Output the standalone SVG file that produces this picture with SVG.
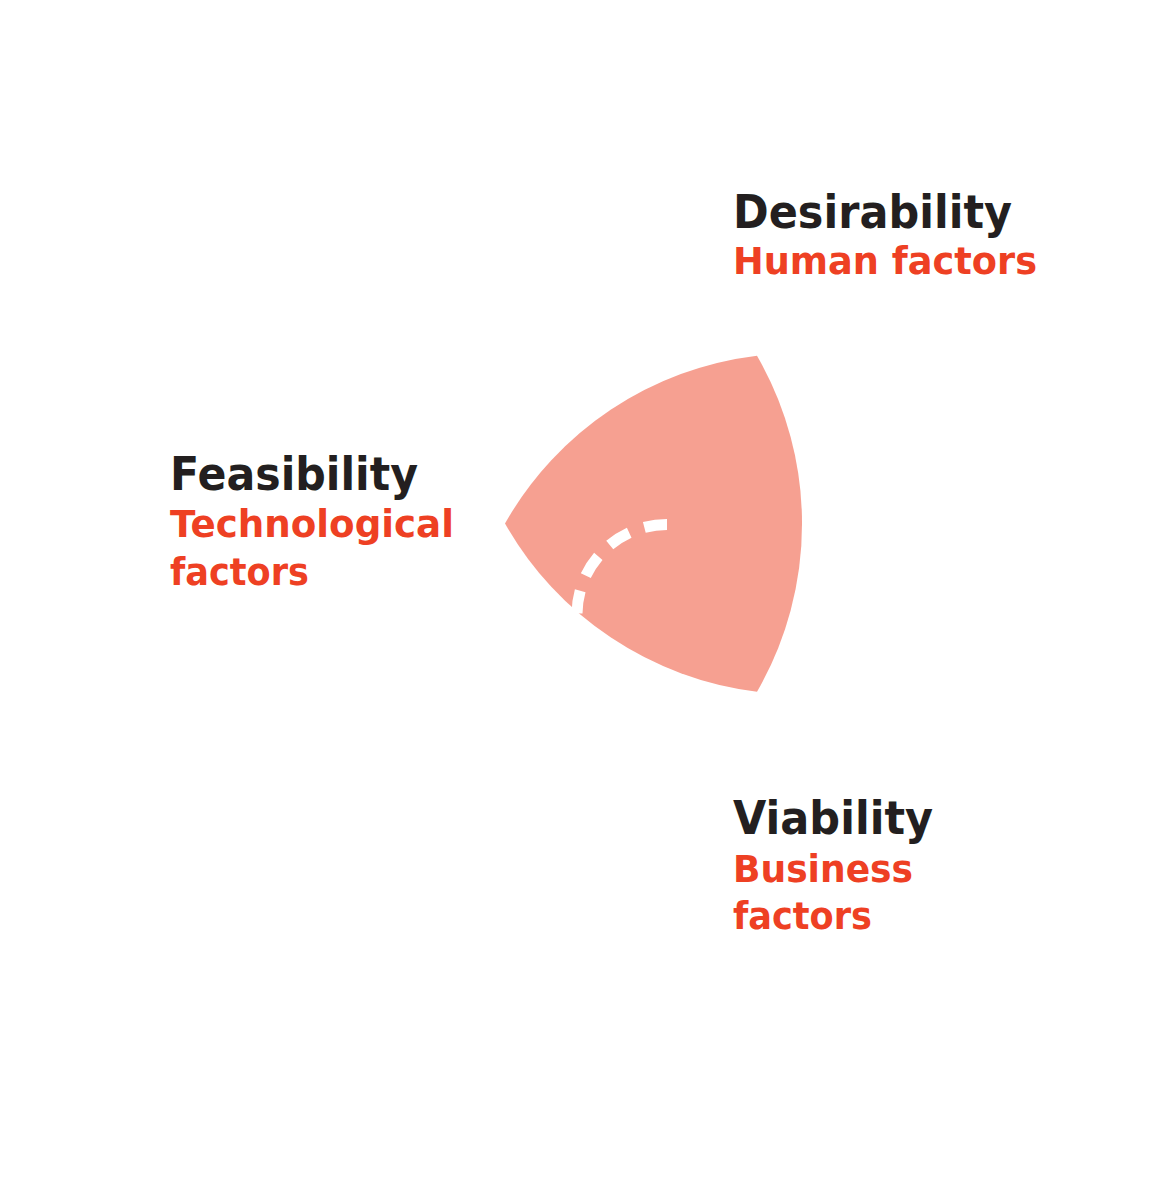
<svg xmlns="http://www.w3.org/2000/svg" width="1173" height="1200" viewBox="0 0 1173 1200">
  <style>
    .title { font-family: "DejaVu Sans", "Liberation Sans", sans-serif; font-weight: bold; font-size: 46px; fill: #231F20; }
    .sub { font-family: "DejaVu Sans", "Liberation Sans", sans-serif; font-weight: bold; font-size: 37px; fill: #EE4023; }
    .dash { fill: none; stroke: #FFFFFF; stroke-width: 11; stroke-dasharray: 23 16; stroke-linecap: butt; }
  </style>
  <rect width="1173" height="1200" fill="#FFFFFF"/>
  <g id="overlap">
    <path d="M757,355.7 A336,336 0 0 1 757,691.7 A336,336 0 0 1 505,523.5 A336,336 0 0 1 757,355.7 Z" fill="#F6A091"/>
    <path class="dash" d="M667,524.5 A90,90 0 0 0 577,614.5"/>
  </g>
  <g id="desirability">
    <text class="title" x="733" y="228" textLength="279" lengthAdjust="spacingAndGlyphs">Desirability</text>
    <text class="sub" x="733" y="274" textLength="304" lengthAdjust="spacingAndGlyphs">Human factors</text>
  </g>
  <g id="feasibility">
    <text class="title" x="170" y="490" textLength="248" lengthAdjust="spacingAndGlyphs">Feasibility</text>
    <text class="sub" x="170" y="537" textLength="284" lengthAdjust="spacingAndGlyphs">Technological</text>
    <text class="sub" x="170" y="585" textLength="139" lengthAdjust="spacingAndGlyphs">factors</text>
  </g>
  <g id="viability">
    <text class="title" x="733" y="834" textLength="200" lengthAdjust="spacingAndGlyphs">Viability</text>
    <text class="sub" x="733" y="882" textLength="180" lengthAdjust="spacingAndGlyphs">Business</text>
    <text class="sub" x="733" y="929" textLength="139" lengthAdjust="spacingAndGlyphs">factors</text>
  </g>
  <g id="connectors"></g>
</svg>
